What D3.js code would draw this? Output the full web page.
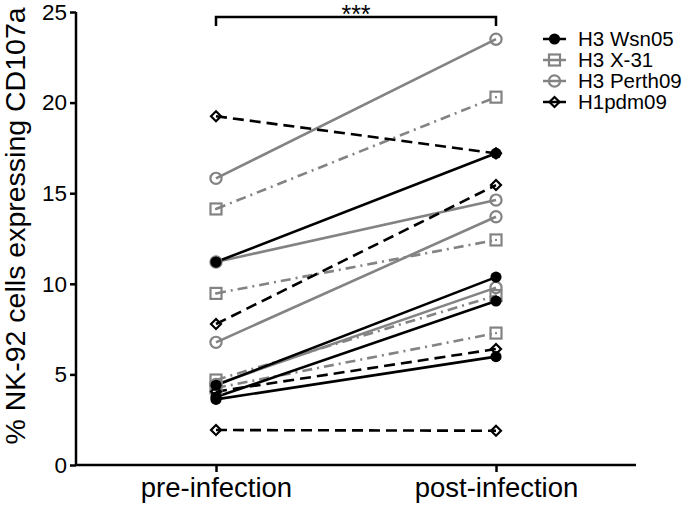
<!DOCTYPE html>
<html><head><meta charset="utf-8">
<script src="https://cdn.jsdelivr.net/npm/d3@7/dist/d3.min.js"></script>
<style>body{margin:0;background:#fff;}svg{display:block;font-family:"Liberation Sans",Arial,sans-serif;}</style>
</head><body><svg id="c" width="694" height="507"></svg>
<script>
const categories = ["pre-infection", "post-infection"];
const seriesNames = ["H3 Wsn05", "H3 X-31", "H3 Perth09", "H1pdm09"];
const wsn05Pre = [11.2, 4.4, 3.75, 3.62];
const wsn05Post = [17.2, 10.37, 9.05, 5.98];
const x31Pre = [14.13, 9.47, 4.69, 4.25];
const x31Post = [20.3, 12.42, 9.35, 7.28];
const perthPre = [15.82, 11.2, 6.77, 4.45];
const perthPost = [23.5, 14.62, 13.7, 9.79];
const h1Pre = [19.25, 7.78, 4.05, 1.93];
const h1Post = [17.2, 15.45, 6.4, 1.89];
const yTicks = [0, 5, 10, 15, 20, 25];
const yTitle = "% NK-92 cells expressing CD107a";
const sigLabel = "***";

const GRAY = "#838383", BLACK = "#000";
const styles = {
  "H3 Wsn05": {color: BLACK, dash: null, marker: "filled"},
  "H3 X-31": {color: GRAY, dash: "10,5,2,5", marker: "square"},
  "H3 Perth09": {color: GRAY, dash: null, marker: "circle"},
  "H1pdm09": {color: BLACK, dash: "11,6", marker: "diamond"}
};
const data = {
  "H3 Wsn05": [wsn05Pre, wsn05Post],
  "H3 X-31": [x31Pre, x31Post],
  "H3 Perth09": [perthPre, perthPost],
  "H1pdm09": [h1Pre, h1Post]
};

const svg = d3.select("#c");
const x = d3.scalePoint().domain(categories).range([76, 636]).padding(0.5);
const y = d3.scaleLinear().domain([0, 25]).range([465, 12]);

function drawMarker(g, type, cx, cy, color) {
  if (type === "filled") {
    g.append("circle").attr("cx", cx).attr("cy", cy).attr("r", 5.6).attr("fill", color);
  } else if (type === "circle") {
    g.append("circle").attr("cx", cx).attr("cy", cy).attr("r", 5.6).attr("fill", "none").attr("stroke", color).attr("stroke-width", 2.2);
  } else if (type === "square") {
    g.append("rect").attr("x", cx - 5.5).attr("y", cy - 5.5).attr("width", 11).attr("height", 11).attr("fill", "none").attr("stroke", color).attr("stroke-width", 2.2);
    g.append("rect").attr("x", cx - 1).attr("y", cy - 1).attr("width", 2).attr("height", 2).attr("fill", color);
  } else if (type === "diamond") {
    g.append("path").attr("d", `M${cx},${cy-5}L${cx+5},${cy}L${cx},${cy+5}L${cx-5},${cy}Z`).attr("fill", "none").attr("stroke", color).attr("stroke-width", 2.2);
  }
}

// axes
const yAxis = svg.append("g").attr("transform", "translate(76,0)")
  .call(d3.axisLeft(y).tickValues(yTicks).tickSize(6).tickPadding(3));
const xAxis = svg.append("g").attr("transform", "translate(0,465)")
  .call(d3.axisBottom(x).tickSize(7).tickPadding(5));
[yAxis, xAxis].forEach(a => {
  a.select(".domain").attr("stroke", "#000").attr("stroke-width", 2.5);
  a.selectAll(".tick line").attr("stroke", "#000").attr("stroke-width", 2.5);
});
yAxis.select(".domain").attr("d", "M-0,12V465");
xAxis.select(".domain").attr("d", "M76,0H636");
yAxis.selectAll(".tick text").attr("font-size", 22.5).attr("fill", "#000").attr("font-family", "Liberation Sans, Arial, sans-serif");
xAxis.selectAll(".tick text").attr("font-size", 27.5).attr("fill", "#000").attr("font-family", "Liberation Sans, Arial, sans-serif");

svg.append("text").attr("transform", "translate(25,226) rotate(-90)").attr("text-anchor", "middle")
  .attr("font-size", 28.5).text(yTitle);

// data
const order = ["H3 Perth09", "H3 X-31", "H1pdm09", "H3 Wsn05"];
const plot = svg.append("g");
order.forEach(name => {
  const st = styles[name];
  const [pre, post] = data[name];
  pre.forEach((v, i) => {
    const ln = plot.append("line")
      .attr("x1", x(categories[0])).attr("y1", y(v))
      .attr("x2", x(categories[1])).attr("y2", y(post[i]))
      .attr("stroke", st.color).attr("stroke-width", 2.6);
    if (st.dash) ln.attr("stroke-dasharray", st.dash);
  });
});
order.forEach(name => {
  const st = styles[name];
  const [pre, post] = data[name];
  pre.forEach((v, i) => {
    drawMarker(plot, st.marker, x(categories[0]), y(v), st.color);
    drawMarker(plot, st.marker, x(categories[1]), y(post[i]), st.color);
  });
});

// significance bracket
const x0 = x(categories[0]), x1 = x(categories[1]);
svg.append("path").attr("d", `M${x0},26V17H${x1}V26`).attr("fill", "none").attr("stroke", "#000").attr("stroke-width", 2.5);
svg.append("text").attr("x", (x0 + x1) / 2).attr("y", 23).attr("text-anchor", "middle").attr("font-size", 25).text(sigLabel);

// legend
const leg = svg.append("g");
seriesNames.forEach((name, i) => {
  const st = styles[name];
  const ly = 39 + i * 21;
  leg.append("line").attr("x1", 543).attr("x2", 566).attr("y1", ly).attr("y2", ly)
    .attr("stroke", st.color).attr("stroke-width", 2.5);
  drawMarker(leg, st.marker, 554.5, ly, st.color);
  leg.append("text").attr("x", 578).attr("y", ly + 7).attr("font-size", 20.5).text(name);
});
</script></body></html>
